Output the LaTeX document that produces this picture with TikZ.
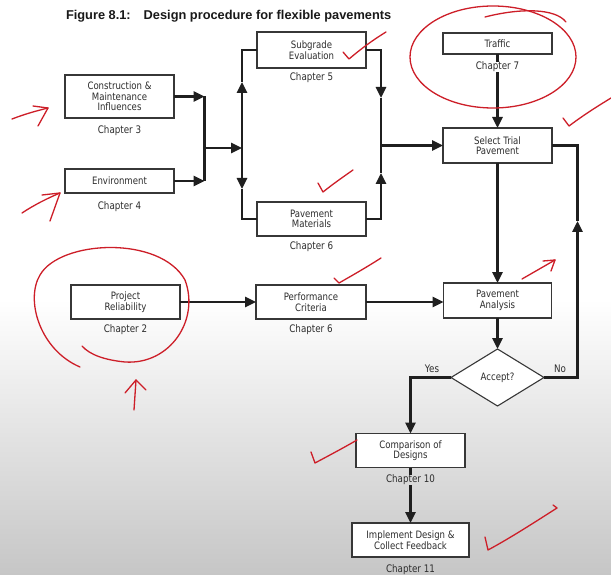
\documentclass[tikz,border=0pt]{standalone}
\usepackage{fontspec}
\usetikzlibrary{shapes.geometric,arrows.meta}
\newfontfamily\boxfont{DejaVu Sans}[FakeStretch=0.84]
\newfontfamily\titlefont{Liberation Sans}
\definecolor{ink}{RGB}{45,45,45}
\definecolor{bord}{RGB}{55,55,55}
\definecolor{pen}{RGB}{205,30,40}
\definecolor{bgbot}{RGB}{198,198,198}
\tikzset{
  every node/.style={inner sep=0pt, outer sep=0pt},
  pbox/.style={draw=bord, line width=1.1pt, fill=white, text=ink, align=center,
    font=\boxfont\fontsize{10.2}{10.6}\selectfont, minimum width=109pt, minimum height=34pt},
  chap/.style={text=ink, font=\boxfont\fontsize{10.4}{11}\selectfont},
  conn/.style={draw=black!88, line width=2.6pt},
  tip/.style={-{Triangle[length=11pt,width=10pt]}},
  redpen/.style={draw=pen, line width=1.3pt, line cap=round, line join=round},
}
\begin{document}
\begin{tikzpicture}[x=1pt,y=-1pt]
\useasboundingbox (0,0) rectangle (611,575);
\fill[white] (0,0) rectangle (611,300);
\shade[top color=white, bottom color=bgbot] (0,299) rectangle (611,575);

% title
\node[anchor=west, font=\titlefont\bfseries\fontsize{12.8}{14}\selectfont, text=black!90] (title) at (66,16)
  {Figure 8.1:\hspace{13pt}Design procedure for flexible pavements};

% boxes
\node[pbox, minimum height=43pt] (cmi) at (119.5,96.5) {Construction \&\\Maintenance\\Influences};
\node[chap] (ch3) at (119.5,131) {Chapter 3};
\node[pbox, minimum height=24pt] (env) at (119.5,181) {Environment};
\node[chap] (ch4) at (119.5,207) {Chapter 4};
\node[pbox, minimum height=36pt] (sub) at (311.5,50) {Subgrade\\Evaluation};
\node[chap] (ch5) at (311.5,78) {Chapter 5};
\node[pbox] (pm) at (311.5,219) {Pavement\\Materials};
\node[chap] (ch6a) at (311.5,247) {Chapter 6};
\node[pbox, minimum height=21pt] (traffic) at (497.5,43.5) {Traffic};
\node[chap] (ch7) at (497.5,67) {Chapter 7};
\node[pbox, minimum height=35pt] (select) at (497.5,145.5) {Select Trial\\Pavement};
\node[pbox] (pr) at (125.5,302) {Project\\Reliability};
\node[chap] (ch2) at (125.5,330) {Chapter 2};
\node[pbox, minimum width=110pt] (pc) at (311,302) {Performance\\Criteria};
\node[chap] (ch6b) at (311,330) {Chapter 6};
\node[pbox, minimum width=108pt, minimum height=35pt] (pa) at (497.5,300.5) {Pavement\\Analysis};
\node[pbox, shape=diamond, minimum width=93pt, minimum height=57pt, aspect=1.63] (acc) at (497.5,377.5) {Accept?};
\node[chap] (yes) at (432,369) {Yes};
\node[chap] (no) at (560,369) {No};
\node[pbox] (cmp) at (410.5,450.5) {Comparison of\\Designs};
\node[chap] (ch10) at (410.5,480) {Chapter 10};
\node[pbox, minimum width=117pt] (imp) at (410.5,540) {Implement Design \&\\Collect Feedback};
\node[chap] (ch11) at (410.5,570) {Chapter 11};

% left merge
\coordinate (jl) at (204.5,148);
\draw[conn, tip] (cmi.east) -- (cmi.east -| jl);
\draw[conn, tip] (env.east) -- (env.east -| jl);
\draw[conn] (cmi.east -| jl) -- (env.east -| jl);
\coordinate (lb) at (242,148);
\draw[conn, tip] (jl) -- (lb);
\coordinate (upA) at (242,82);
\coordinate (dnA) at (242,189);
\draw[conn, tip] (lb) -- (upA);
\draw[conn] (upA) |- (sub.west);
\draw[conn, tip] (lb) -- (dnA);
\draw[conn] (dnA) |- (pm.west);

% right merge
\coordinate (rb) at (381,145.5);
\coordinate (rdn) at (381,98);
\coordinate (rup) at (381,173);
\draw[conn, tip] (sub.east) -| (rdn);
\draw[conn] (rdn) -- (rb);
\draw[conn, tip] (pm.east) -| (rup);
\draw[conn] (rup) -- (rb);
\draw[conn, tip] (rb) -- (select.west);

% traffic
\draw[conn] (traffic.south) -- (ch7.north);
\draw[conn, tip] (ch7.south) -- (select.north);

% main column
\draw[conn, tip] (select.south) -- (pa.north);
\draw[conn, tip] (pr.east) -- (pc.west);
\draw[conn, tip] (pc.east) -- (pc.east -| pa.west);
\draw[conn, tip] (pa.south) -- (acc.north);
\draw[conn, tip] (acc.west) -| (cmp.north);
\coordinate (nr) at (577.5,377.5);
\coordinate (nup) at (577.5,221);
\draw[conn, tip] (acc.east) -- (nr) -- (nup);
\draw[conn] (nup) |- (select.east);
\draw[conn] (cmp.south) -- (ch10.north);
\draw[conn, tip] (ch10.south) -- (imp.north);

% red handwritten annotations
\draw[redpen] (12,119) .. controls (25,114) and (36,111) .. (48,108);
\draw[redpen] (33,106) -- (48,108) -- (38,126);
\draw[redpen] (22,213) .. controls (34,205) and (48,198) .. (60,193);
\draw[redpen] (42,195) -- (60,193) -- (50,221);
\draw[redpen] (343,52) -- (349,59) .. controls (362,48) and (373,40) .. (386,32);
\draw[redpen] (493,57) ellipse [x radius=83, y radius=51];
\draw[redpen] (485,17) .. controls (520,8) and (555,8) .. (566,22);
\draw[redpen] (563,118) -- (569,126) .. controls (585,114) and (598,106) .. (611,98);
\draw[redpen] (318,183) -- (323,192) .. controls (333,184) and (343,177) .. (353,170);
\draw[redpen] (80,367) .. controls (40,350) and (25,300) .. (40,275)
  .. controls (60,240) and (160,235) .. (185,280)
  .. controls (200,320) and (170,365) .. (125,362)
  .. controls (105,360) and (90,355) .. (82,346);
\draw[redpen] (134,410) -- (136,380);
\draw[redpen] (125,393) -- (136,380) -- (146,390);
\draw[redpen] (334,278) -- (339,283) .. controls (353,275) and (367,267) .. (381,258);
\draw[redpen] (522,279) -- (555,260);
\draw[redpen] (543,261) -- (555,260) -- (551,271);
\draw[redpen] (311,452) -- (315,463) .. controls (330,455) and (345,447) .. (357,440);
\draw[redpen] (485,537) -- (488,550) .. controls (512,537) and (535,522) .. (557,508) -- (553,505);
\end{tikzpicture}
\end{document}
